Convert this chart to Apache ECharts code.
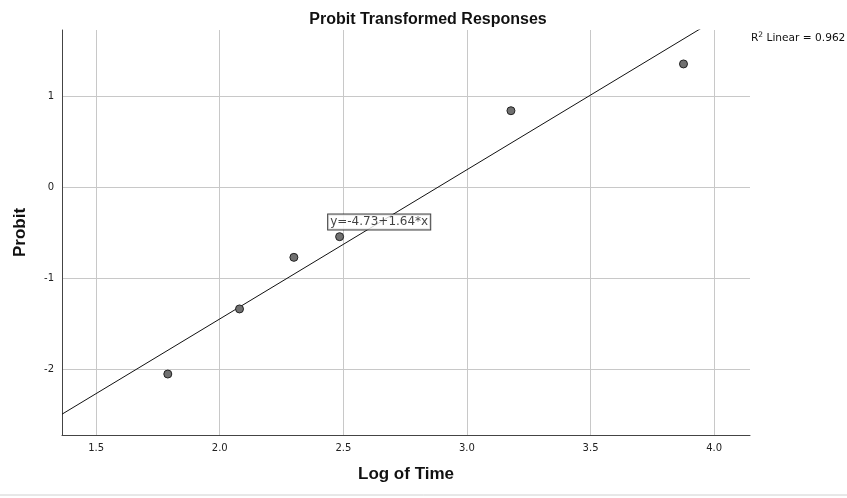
<!DOCTYPE html>
<html>
<head>
<meta charset="utf-8">
<script src="https://cdn.jsdelivr.net/npm/echarts@6/dist/echarts.min.js"></script>
<style>html,body{margin:0;padding:0;background:#fff}#c{width:847px;height:498px}</style>
</head>
<body>
<div id="c"></div>
<script>
const logTime = [1.79, 2.08, 2.30, 2.485, 3.178, 3.876];
const probit = [-2.055, -1.34, -0.773, -0.546, 0.838, 1.352];
const fitIntercept = -4.73;
const fitSlope = 1.64;
const rSquared = '0.962';
const xTicks = [1.5, 2.0, 2.5, 3.0, 3.5, 4.0];
const yTicks = [-2, -1, 0, 1];
const xRange = [1.362, 4.145];
const yRange = [-2.725, 1.725];
const eqAnchor = [2.645, -0.385];

const fitLine = [
  [xRange[0], fitIntercept + fitSlope * xRange[0]],
  [xRange[1], fitIntercept + fitSlope * xRange[1]]
];
const fontTick = 'DejaVu Sans';
const fontBold = 'Liberation Sans';
const chart = echarts.init(document.getElementById('c'), null, {renderer: 'canvas'});
chart.setOption({
  backgroundColor: '#ffffff',
  animation: false,
  title: {
    text: 'Probit Transformed Responses',
    left: 423, top: 7, textAlign: 'center',
    textStyle: {fontFamily: fontBold, fontWeight: 'bold', fontSize: 16, color: '#111'}
  },
  graphic: [
    {type: 'text', left: 751, top: 31, style: {
      text: '{a|R}{s|2}{a| Linear = ' + rSquared + '}',
      rich: {
        a: {fontFamily: fontTick, fontSize: 10.6, fill: '#111'},
        s: {fontFamily: fontTick, fontSize: 7.5, fill: '#111', verticalAlign: 'top', padding: [0, 0, 6, 0]}
      }
    }},
    {type: 'line', shape: {x1: 0, y1: 495, x2: 847, y2: 495}, style: {stroke: '#d0d0d0', lineWidth: 1}}
  ],
  grid: {left: 62, right: 97, top: 30, bottom: 63, containLabel: false},
  xAxis: {
    type: 'value', min: xRange[0], max: xRange[1],
    name: 'Log of Time', nameLocation: 'middle', nameGap: 31,
    nameTextStyle: {fontFamily: fontBold, fontWeight: 'bold', fontSize: 17, color: '#111'},
    axisLine: {show: true, onZero: false, lineStyle: {color: '#444', width: 1}},
    axisTick: {show: false, customValues: xTicks},
    axisLabel: {customValues: xTicks, formatter: v => v.toFixed(1), fontFamily: fontTick, fontSize: 10, color: '#222', margin: 8},
    splitLine: {show: true, lineStyle: {color: '#c8c8c8', width: 1}}
  },
  yAxis: {
    type: 'value', min: yRange[0], max: yRange[1],
    name: 'Probit', nameLocation: 'middle', nameGap: 33, nameRotate: 90,
    nameTextStyle: {fontFamily: fontBold, fontWeight: 'bold', fontSize: 17, color: '#111'},
    axisLine: {show: true, onZero: false, lineStyle: {color: '#444', width: 1}},
    axisTick: {show: false, customValues: yTicks},
    axisLabel: {customValues: yTicks, formatter: v => String(v), fontFamily: fontTick, fontSize: 10, color: '#222', margin: 8},
    splitLine: {show: true, lineStyle: {color: '#c8c8c8', width: 1}}
  },
  series: [
    {
      type: 'line', data: fitLine, symbol: 'none', clip: true,
      lineStyle: {color: '#111', width: 1}, z: 3, silent: true
    },
    {
      type: 'scatter', data: logTime.map((x, i) => [x, probit[i]]),
      symbol: 'circle', symbolSize: 8,
      itemStyle: {color: '#707070', borderColor: '#222', borderWidth: 1, opacity: 1}, z: 4
    },
    {
      type: 'scatter', data: [eqAnchor], symbolSize: 0, z: 5,
      label: {
        show: true, position: 'inside',
        formatter: 'y=' + fitIntercept.toFixed(2) + '+' + fitSlope.toFixed(2) + '*x',
        fontFamily: fontTick, fontSize: 12, color: '#111',
        backgroundColor: '#fff', borderColor: '#111', borderWidth: 1, padding: [2, 2, 1, 2]
      }
    }
  ]
});
</script>
</body>
</html>
